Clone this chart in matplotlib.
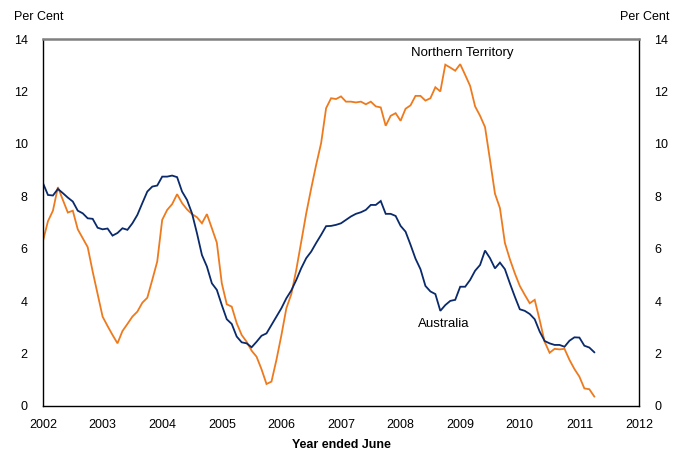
import matplotlib
matplotlib.use("Agg")
import matplotlib.pyplot as plt
import numpy as np

plt.rcParams['font.family'] = ['Liberation Sans', 'DejaVu Sans']

# Monthly observations starting 2002 (year ended June axis)
australia = [8.50, 8.05, 8.03, 8.28, 8.12, 7.95, 7.80, 7.45, 7.35, 7.16, 7.14, 6.80,
             6.74, 6.77, 6.50, 6.60, 6.78, 6.72, 6.97, 7.29, 7.74, 8.18, 8.37, 8.41,
             8.75, 8.75, 8.79, 8.73, 8.18, 7.86, 7.35, 6.59, 5.76, 5.32, 4.68, 4.43,
             3.85, 3.31, 3.13, 2.65, 2.43, 2.39, 2.24, 2.45, 2.68, 2.77, 3.09, 3.41,
             3.73, 4.11, 4.41, 4.81, 5.26, 5.64, 5.89, 6.22, 6.53, 6.86, 6.87, 6.91,
             6.97, 7.10, 7.23, 7.33, 7.39, 7.48, 7.67, 7.67, 7.82, 7.33, 7.33, 7.25,
             6.87, 6.65, 6.15, 5.62, 5.22, 4.58, 4.37, 4.27, 3.63, 3.85, 4.01, 4.05,
             4.55, 4.55, 4.81, 5.16, 5.38, 5.93, 5.64, 5.25, 5.47, 5.22, 4.68, 4.17,
             3.69, 3.63, 3.51, 3.31, 2.84, 2.48, 2.39, 2.33, 2.33, 2.26, 2.49, 2.62,
             2.61, 2.30, 2.23, 2.05]

northern_territory = [6.30, 7.05, 7.45, 8.35, 7.86, 7.38, 7.45, 6.74, 6.40, 6.06, 5.13, 4.27,
                      3.41, 3.05, 2.71, 2.39, 2.86, 3.13, 3.41, 3.60, 3.94, 4.13, 4.81, 5.51,
                      7.10, 7.48, 7.70, 8.08, 7.74, 7.50, 7.32, 7.20, 6.97, 7.32, 6.78, 6.23,
                      4.68, 3.88, 3.79, 3.16, 2.71, 2.45, 2.11, 1.88, 1.40, 0.84, 0.93, 1.76,
                      2.70, 3.73, 4.27, 5.20, 6.27, 7.35, 8.30, 9.20, 10.03, 11.36, 11.74, 11.71,
                      11.81, 11.61, 11.61, 11.58, 11.61, 11.51, 11.61, 11.43, 11.39, 10.69, 11.07, 11.17,
                      10.88, 11.34, 11.47, 11.83, 11.83, 11.65, 11.74, 12.16, 12.00, 13.02, 12.91, 12.79,
                      13.04, 12.63, 12.21, 11.43, 11.07, 10.64, 9.39, 8.10, 7.55, 6.22, 5.60, 5.06,
                      4.58, 4.24, 3.92, 4.05, 3.28, 2.45, 2.03, 2.18, 2.16, 2.18, 1.76, 1.41,
                      1.12, 0.67, 0.64, 0.36]

start_year = 2002
months = np.arange(len(australia))
dates = start_year + months / 12.0

x_ticks = list(range(2002, 2013))
y_ticks = [0, 2, 4, 6, 8, 10, 12, 14]

navy = '#0A2A6B'
orange = '#EE7A1E'

fig = plt.figure(figsize=(6.76, 4.55), dpi=100)
ax = fig.add_axes([43/676, 49/455, 596/676, 367/455])

ax.plot(dates, northern_territory, color=orange, lw=1.3, solid_joinstyle='miter')
ax.plot(dates, australia, color=navy, lw=1.3, solid_joinstyle='miter')

ax.set_xlim(2002, 2012)
ax.set_ylim(0, 14)
ax.set_xticks(x_ticks)
ax.set_yticks(y_ticks)
ax.tick_params(axis='both', length=0, labelsize=9, colors='black')
ax.tick_params(axis='y', pad=11, labelright=True, right=False)
ax.tick_params(axis='x', pad=9)

for s in ['left', 'bottom', 'right']:
    ax.spines[s].set_color('black')
    ax.spines[s].set_linewidth(1.0)
ax.spines['top'].set_color('#808080')
ax.spines['top'].set_linewidth(1.8)

ax.set_xlabel('Year ended June', fontsize=9, fontweight='bold', labelpad=6)

fig.text(14/676, 1 - 17/455, 'Per Cent', fontsize=9, ha='left', va='center')
fig.text(670/676, 1 - 17/455, 'Per Cent', fontsize=9, ha='right', va='center')

ax.text(2009.03, 13.45, 'Northern Territory', fontsize=9.5, ha='center', va='center')
ax.text(2008.73, 3.13, 'Australia', fontsize=9.5, ha='center', va='center')

fig.savefig('out.png', dpi=100)
